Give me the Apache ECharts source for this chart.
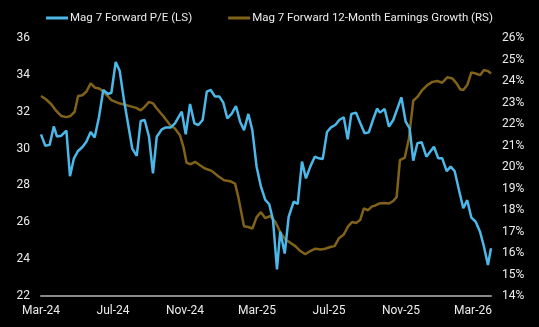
<!DOCTYPE html>
<html>
<head>
<meta charset="utf-8">
<script src="https://cdn.jsdelivr.net/npm/echarts@6/dist/echarts.min.js"></script>
<style>
html,body{margin:0;padding:0;background:#000;}
#c{width:539px;height:327px;}
</style>
</head>
<body>
<div id="c"></div>
<script>
// Months elapsed since Mar-2024 (x) for each series
var peMonths = [0,0.24,0.48,0.71,0.89,1.13,1.41,1.61,1.83,2.06,2.29,2.52,2.76,2.98,3.22,3.46,3.72,3.91,4.15,4.37,4.61,4.83,5.07,5.32,5.54,5.76,6.0,6.22,6.43,6.71,6.94,7.21,7.44,7.82,8.04,8.28,8.52,8.74,8.98,9.21,9.43,9.67,9.91,10.13,10.35,10.59,10.83,11.06,11.28,11.52,11.74,11.98,12.22,12.46,12.68,12.89,13.11,13.29,13.54,13.76,14.04,14.26,14.5,14.72,14.96,15.21,15.43,15.65,15.89,16.11,16.35,16.57,16.82,17.04,17.24,17.5,17.74,17.98,18.21,18.44,18.67,18.83,19.09,19.33,19.57,20.02,20.26,20.48,20.68,20.91,21.15,21.41,21.83,22.07,22.29,22.54,22.76,22.98,23.22,23.46,23.68,23.91,24.15,24.39,24.61,24.83,25.0];
var peValues = [30.77,30.15,30.2,31.2,30.65,30.7,30.97,28.5,29.47,29.87,30.07,30.37,30.9,30.6,31.7,33.18,32.96,33.03,34.7,34.22,32.63,31.37,30.0,29.6,31.5,31.55,30.64,28.66,30.64,31.04,31.15,31.15,31.37,32.0,30.77,32.42,31.37,31.28,31.55,33.09,33.18,32.82,32.82,32.49,31.64,31.88,32.31,31.46,31.0,31.88,31.0,29.0,27.93,27.22,26.98,26.12,23.45,25.49,24.3,26.3,27.12,26.99,29.29,28.38,29.02,29.56,29.47,29.43,30.9,31.15,31.28,31.55,31.7,30.5,31.88,31.95,31.37,30.83,30.88,31.55,32.17,31.95,32.15,31.19,31.55,32.78,31.46,31.1,29.34,30.29,30.34,29.56,30.1,29.47,29.47,28.78,29.02,28.78,27.75,26.76,27.2,26.25,26.03,25.49,24.67,23.68,24.59];

var egMonths = [0,0.29,0.57,0.85,1.13,1.41,1.63,1.87,2.06,2.29,2.52,2.76,2.98,3.26,3.54,3.91,4.28,4.61,4.93,5.29,5.54,5.76,6.0,6.22,6.43,6.79,7.17,7.44,7.72,7.91,8.09,8.32,8.56,8.83,9.11,9.48,9.85,10.17,10.5,10.78,10.96,11.28,11.52,11.74,11.98,12.22,12.46,12.74,13.02,13.29,13.57,13.85,14.13,14.41,14.68,14.96,15.24,15.52,15.79,16.07,16.31,16.54,16.82,17.06,17.28,17.52,17.74,17.93,18.17,18.39,18.55,18.78,19.06,19.33,19.57,19.76,19.94,20.21,20.44,20.68,20.91,21.18,21.46,21.74,22.02,22.29,22.57,22.85,23.09,23.28,23.46,23.68,23.91,24.15,24.39,24.61,24.83,25.0];
var egValues = [23.3,23.14,22.92,22.61,22.37,22.32,22.37,22.57,23.3,23.34,23.5,23.89,23.7,23.64,23.45,23.11,22.98,22.91,22.83,22.75,22.63,22.8,23.03,22.96,22.72,22.37,21.95,21.79,21.48,20.94,20.19,20.13,20.24,20.08,19.93,19.82,19.57,19.38,19.34,19.23,18.61,17.24,17.21,17.13,17.67,17.9,17.62,17.72,17.44,16.98,16.62,16.48,16.32,16.09,15.94,16.09,16.2,16.16,16.2,16.28,16.32,16.67,16.86,17.24,17.44,17.4,17.55,18.07,17.99,18.17,18.2,18.3,18.33,18.3,18.42,18.61,20.32,20.44,21.33,23.08,23.26,23.58,23.81,23.96,24.0,23.92,24.17,24.12,23.89,23.62,23.58,23.81,24.4,24.35,24.27,24.51,24.46,24.35];

var xTickLabels = ['Mar-24','Jul-24','Nov-24','Mar-25','Jul-25','Nov-25','Mar-26'];
var seriesNames = ['Mag 7 Forward P/E (LS)','Mag 7 Forward 12-Month Earnings Growth (RS)'];

function zip(xs, ys){ return xs.map(function(x,i){ return [x, ys[i]]; }); }

var labelStyle = {color:'#ececec', fontSize:12, fontFamily:'Roboto, "Liberation Sans", sans-serif'};

var chart = echarts.init(document.getElementById('c'), null, {renderer:'canvas'});
chart.setOption({
  backgroundColor:'#000000',
  animation:false,
  legend:{
    top:7, left:'center',
    itemWidth:22, itemHeight:3, itemGap:36,
    icon:'rect',
    textStyle:{color:'#ececec', fontSize:11.5, fontFamily:'Roboto, "Liberation Sans", sans-serif', padding:[0,0,0,-3]},
    data:seriesNames
  },
  grid:{left:41, right:48, top:38, bottom:31},
  xAxis:{
    type:'value', min:0, max:25, interval:4,
    axisLine:{show:true, lineStyle:{color:'#8a8a8a', width:2}},
    axisTick:{show:false},
    splitLine:{show:false},
    axisLabel:Object.assign({margin:9, formatter:function(v){ return xTickLabels[v/4] || ''; }}, labelStyle)
  },
  yAxis:[
    {type:'value', min:22, max:36, interval:2, position:'left',
     axisLine:{show:false}, axisTick:{show:false}, splitLine:{show:false},
     axisLabel:Object.assign({margin:11}, labelStyle)},
    {type:'value', min:14, max:26, interval:1, position:'right',
     axisLine:{show:false}, axisTick:{show:false}, splitLine:{show:false},
     axisLabel:Object.assign({margin:11, formatter:'{value}%'}, labelStyle)}
  ],
  series:[
    {name:seriesNames[0], type:'line', yAxisIndex:0, data:zip(peMonths, peValues),
     showSymbol:false, symbol:'none', z:3,
     itemStyle:{color:'#4bb8e9'}, lineStyle:{color:'#4bb8e9', width:2.5}},
    {name:seriesNames[1], type:'line', yAxisIndex:1, data:zip(egMonths, egValues),
     showSymbol:false, symbol:'none', z:2,
     itemStyle:{color:'#806219'}, lineStyle:{color:'#806219', width:2.5}}
  ]
});
</script>
</body>
</html>
